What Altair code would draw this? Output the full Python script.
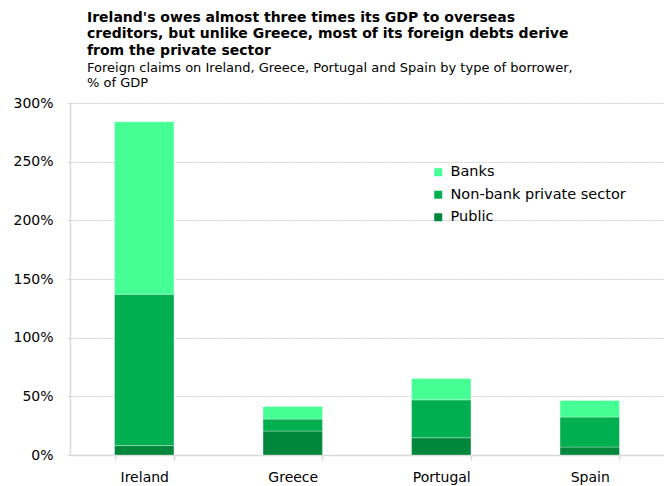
import altair as alt
import pandas as pd

countries = ["Ireland", "Greece", "Portugal", "Spain"]
series = ["Banks", "Non-bank private sector", "Public"]
public = [8.0, 20.4, 14.7, 6.8]
nonbank = [129.0, 10.2, 32.3, 25.5]
banks = [147.0, 10.7, 18.2, 14.2]
colors = ["#46FF94", "#00AF50", "#00873C"]

rows = []
for i, c in enumerate(countries):
    rows.append({"country": c, "type": "Public", "value": public[i] / 100, "ord": 0})
    rows.append({"country": c, "type": "Non-bank private sector", "value": nonbank[i] / 100, "ord": 1})
    rows.append({"country": c, "type": "Banks", "value": banks[i] / 100, "ord": 2})
df = pd.DataFrame(rows)

FONT = "DejaVu Sans"

chart = alt.Chart(df).mark_bar(stroke="#ffffff", strokeWidth=0.6, strokeOpacity=0.5).encode(
    x=alt.X("country:N", sort=countries, title=None,
            scale=alt.Scale(paddingInner=0.6, paddingOuter=0.3),
            axis=alt.Axis(labelAngle=0, tickBand="extent", labelFontSize=14, labelPadding=10,
                          labelColor="#000000", domainColor="#d9d9d9", domainWidth=1.5,
                          tickColor="#d9d9d9", tickSize=5, tickWidth=1.5, labelFont=FONT)),
    y=alt.Y("value:Q", title=None, stack="zero",
            scale=alt.Scale(domain=[0, 3], nice=False),
            axis=alt.Axis(format=".0%", values=[0, 0.5, 1, 1.5, 2, 2.5, 3], labelFontSize=14,
                          labelColor="#000000", labelPadding=14, labelFont=FONT,
                          domainColor="#d9d9d9", domainWidth=1.5, tickColor="#d9d9d9",
                          tickSize=3, gridColor="#cfcfcf", gridDash=[2, 1], gridWidth=1)),
    color=alt.Color("type:N", scale=alt.Scale(domain=series, range=colors),
                    legend=alt.Legend(title=None, orient="none", legendX=361, legendY=62,
                                      symbolType="square", symbolSize=64, symbolStrokeWidth=0,
                                      labelFontSize=14.5, labelFont=FONT, labelColor="#000000",
                                      labelLimit=400, rowPadding=7.5, padding=0, labelOffset=5)),
    order=alt.Order("ord:Q", sort="ascending"),
).properties(
    width=594, height=352,
    autosize=alt.AutoSizeParams(type="none"),
    padding={"left": 70, "top": 103, "right": 0, "bottom": 31},
    title=alt.TitleParams(
        text=["Ireland's owes almost three times its GDP  to overseas",
              "creditors, but unlike Greece, most of its foreign debts derive",
              "from the private sector"],
        subtitle=["Foreign claims on Ireland, Greece, Portugal and Spain by type of borrower,",
                  "% of GDP"],
        anchor="start", frame="group", dx=17, offset=6,
        font=FONT, fontSize=14, fontWeight="bold", color="#000000", lineHeight=16.3,
        subtitleFont=FONT, subtitleFontSize=13, subtitleColor="#000000",
        subtitleLineHeight=15.3, subtitlePadding=4,
    ),
).configure_view(stroke=None)

chart.save("out.html", embed_options={"renderer": "svg", "actions": False})
